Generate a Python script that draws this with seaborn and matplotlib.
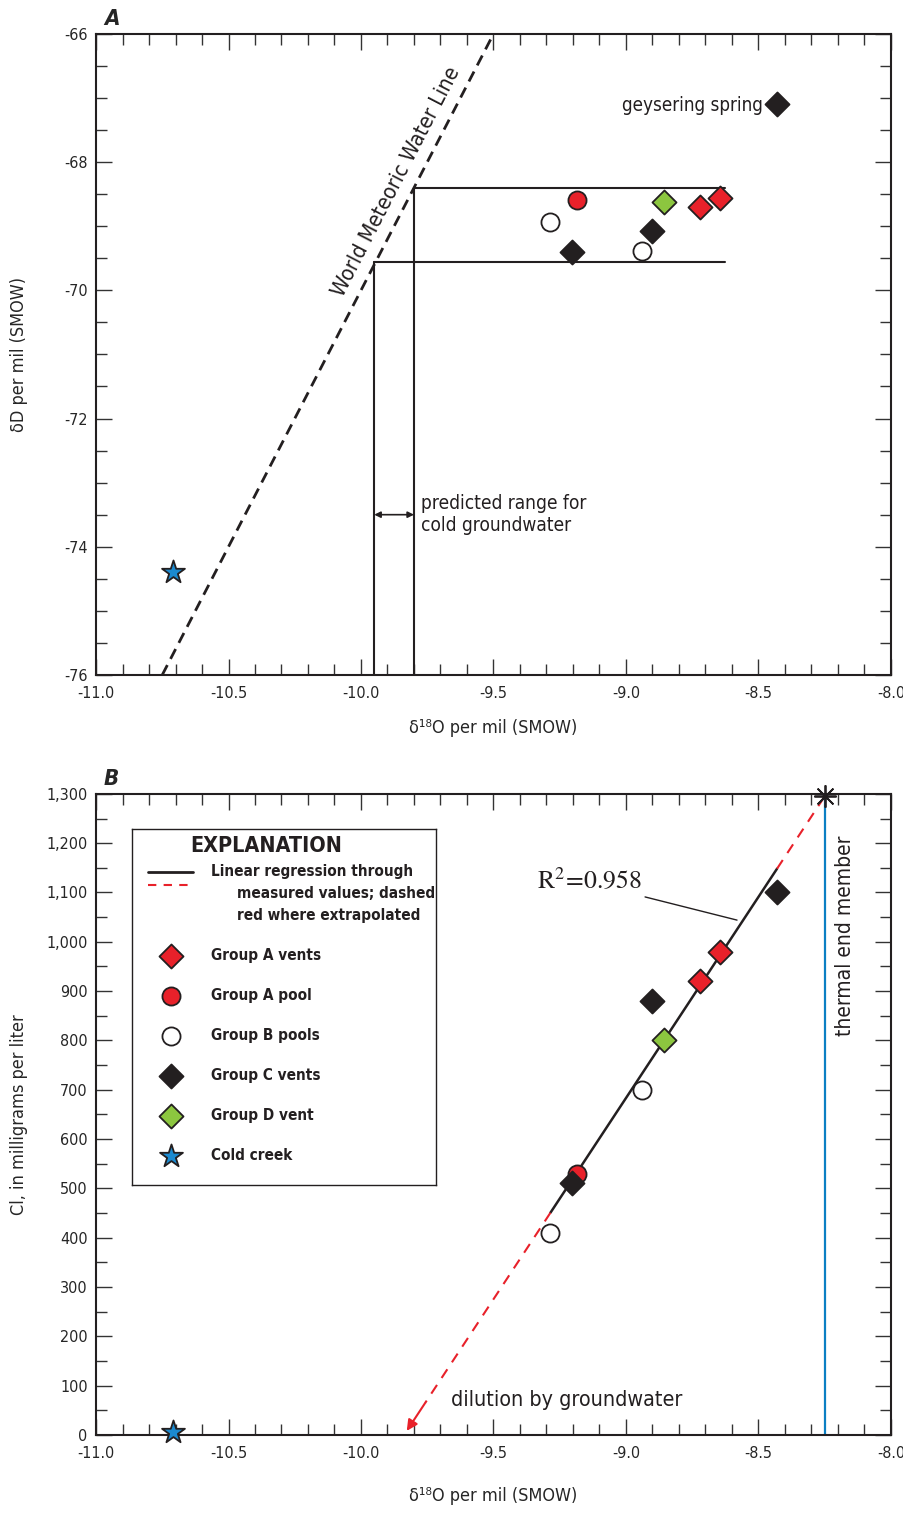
import numpy as np
import matplotlib
matplotlib.use('Agg')
import matplotlib.pyplot as plt
import seaborn as sns
from matplotlib.ticker import MultipleLocator, FuncFormatter

# ── Data ─────────────────────────────────────────────────────
groups  = ['Group A vents', 'Group A pool', 'Group B pools',
           'Group C vents', 'Group D vent', 'Cold creek']
g_color = ['#e8212a', '#e8212a', 'white', '#231f20', '#8cc63f', '#1b8ad0']
g_mark  = ['D', 'o', 'o', 'D', 'D', '*']
g_size  = [150, 170, 170, 150, 150, 300]

sample_group = ['Group A vents', 'Group A vents', 'Group A pool',
                'Group B pools', 'Group B pools', 'Group C vents',
                'Group C vents', 'Group C vents', 'Group D vent', 'Cold creek']
d18o = [-8.72, -8.645, -9.185, -9.285, -8.94, -9.205, -8.90, -8.43, -8.855, -10.71]
dD   = [-68.70, -68.56, -68.59, -68.93, -69.39, -69.40, -69.07, -67.09, -68.62, -74.39]
cl   = [920, 980, 530, 410, 700, 510, 880, 1100, 800, 5]

# world meteoric water line end points (A)
gmwl_x = [-10.75, -9.5]
gmwl_y = [-76, -66]
# predicted cold groundwater range (A)
gw_x   = [-9.95, -9.80]
gw_y   = [-69.56, -68.40]
box_right = -8.625
thermal_x = -8.25   # thermal end member (B)

red   = '#e8212a'
black = '#231f20'
blue  = '#0b7fc3'

sns.set_style('ticks')
plt.rcParams['font.family'] = ['DejaVu Sans']
plt.rcParams['font.stretch'] = 'condensed'
plt.rcParams['axes.unicode_minus'] = False
plt.rcParams['mathtext.fontset'] = 'stix'

fig = plt.figure(figsize=(9.04, 15.13), dpi=100)
axA = fig.add_axes([0.1062, 0.5539, 0.8794, 0.4237])
axB = fig.add_axes([0.1062, 0.0516, 0.8794, 0.4237])


def style_axis(ax):
    for s in ax.spines.values():
        s.set_linewidth(1.5)
        s.set_color(black)
    ax.xaxis.set_major_locator(MultipleLocator(0.5))
    ax.xaxis.set_minor_locator(MultipleLocator(0.1))
    ax.tick_params(which='both', direction='in', top=True, right=True,
                   width=1.0, color='#333333', labelsize=11.5)
    ax.tick_params(which='major', length=11.5)
    ax.tick_params(which='minor', length=8)
    ax.tick_params(axis='x', pad=8)
    ax.tick_params(axis='y', pad=6)
    ax.xaxis.set_major_formatter(FuncFormatter(lambda v, p: f'{v:.1f}'))
    ax.set_xlim(-11, -8)


def draw_points(ax, yvals):
    for g, c, m, s in zip(groups, g_color, g_mark, g_size):
        idx = [i for i, sg in enumerate(sample_group) if sg == g]
        sns.scatterplot(x=[d18o[i] for i in idx], y=[yvals[i] for i in idx],
                        marker=m, s=s, color=c, edgecolor=black,
                        linewidth=1.3, ax=ax, zorder=5, clip_on=False)


# ── Panel A ──────────────────────────────────────────────────
style_axis(axA)
axA.set_ylim(-76, -66)
axA.yaxis.set_major_locator(MultipleLocator(2))
axA.yaxis.set_minor_locator(MultipleLocator(0.5))
axA.yaxis.set_major_formatter(FuncFormatter(lambda v, p: f'{v:.0f}'))

axA.plot(gmwl_x, gmwl_y, color=black, lw=2, ls=(0, (4, 2.5)))
# rectangle of predicted range
axA.plot([gw_x[1], box_right], [gw_y[1], gw_y[1]], color=black, lw=1.5)
axA.plot([gw_x[0], box_right], [gw_y[0], gw_y[0]], color=black, lw=1.5)
axA.plot([gw_x[1], gw_x[1]], [-76, gw_y[1]], color=black, lw=1.5)
axA.plot([gw_x[0], gw_x[0]], [-76, gw_y[0]], color=black, lw=1.5)
axA.annotate('', xy=(gw_x[0], -73.5), xytext=(gw_x[1], -73.5),
             arrowprops=dict(arrowstyle='<|-|>', color=black, lw=1.2,
                             shrinkA=0, shrinkB=0, mutation_scale=9))
axA.text(-9.775, -73.5, 'predicted range for\ncold groundwater',
         fontsize=13.7, ha='left', va='center', color=black, linespacing=1.2)
draw_points(axA, dD)
axA.text(-8.485, -67.12, 'geysering spring', fontsize=13.5, ha='right',
         va='center', color=black)

# rotated label along the meteoric water line
p1 = axA.transData.transform((gmwl_x[0], gmwl_y[0]))
p2 = axA.transData.transform((gmwl_x[1], gmwl_y[1]))
ang = np.degrees(np.arctan2(p2[1] - p1[1], p2[0] - p1[0]))
axA.text(-9.865, -68.31, 'World Meteoric Water Line', rotation=ang,
         rotation_mode='anchor', ha='center', va='center', fontsize=15.5,
         color=black)

axA.set_xlabel('δ¹⁸O per mil (SMOW)', fontsize=13)
axA.set_ylabel('δD per mil (SMOW)', fontsize=13)
axA.xaxis.set_label_coords(0.5, -0.068)
axA.yaxis.set_label_coords(-0.085, 0.5)
axA.text(0.01, 1.008, 'A', transform=axA.transAxes, fontsize=16,
         fontweight='bold', fontstyle='italic', ha='left', va='bottom')

# ── Panel B ──────────────────────────────────────────────────
style_axis(axB)
axB.set_ylim(0, 1300)
axB.yaxis.set_major_locator(MultipleLocator(100))
axB.yaxis.set_minor_locator(MultipleLocator(50))
axB.yaxis.set_major_formatter(FuncFormatter(lambda v, p: f'{v:,.0f}'))

fit_x = [x for x, g in zip(d18o, sample_group) if g != 'Cold creek']
fit_y = [y for y, g in zip(cl, sample_group) if g != 'Cold creek']
sns.regplot(x=fit_x, y=fit_y, scatter=False, ci=None, truncate=True,
            color=black, line_kws={'lw': 1.8}, ax=axB)
slope, icpt = np.polyfit(fit_x, fit_y, 1)
x_zero = -icpt / slope
top_y = slope * thermal_x + icpt

xs_up = np.array([max(fit_x), thermal_x])
axB.plot(xs_up, slope * xs_up + icpt, color=red, lw=1.5, ls=(0, (5, 4)))
x_arrow = x_zero + 0.08
xs_dn = np.array([min(fit_x), x_arrow])
axB.plot(xs_dn, slope * xs_dn + icpt, color=red, lw=1.5, ls=(0, (5, 4)))
axB.annotate('', xy=(x_zero + 0.01, slope * (x_zero + 0.01) + icpt),
             xytext=(x_arrow, slope * x_arrow + icpt),
             arrowprops=dict(arrowstyle='-|>', color=red, lw=1.5,
                             shrinkA=0, shrinkB=0, mutation_scale=16))

axB.plot([thermal_x, thermal_x], [0, top_y], color=blue, lw=1.6)
axB.plot([thermal_x], [top_y], marker=(8, 2, 0), ms=16, mew=1.3,
         color=black, clip_on=False, zorder=6)

draw_points(axB, cl)

axB.text(-9.335, 1123, r'$\mathrm{R^{2}\!=\!0.958}$', fontsize=18.5,
         ha='left', va='center', color=black)
axB.plot([-8.928, -8.581], [1091, 1044], color=black, lw=1)
axB.text(-8.172, 1012, 'thermal end member', rotation=90, fontsize=15,
         ha='center', va='center', color=black)
axB.text(-9.66, 71, 'dilution by groundwater', fontsize=15.4, ha='left',
         va='center', color=black)

axB.set_xlabel('δ¹⁸O per mil (SMOW)', fontsize=13)
axB.set_ylabel('Cl, in milligrams per liter', fontsize=13)
axB.xaxis.set_label_coords(0.5, -0.082)
axB.yaxis.set_label_coords(-0.085, 0.5)
axB.text(0.01, 1.008, 'B', transform=axB.transAxes, fontsize=16,
         fontweight='bold', fontstyle='italic', ha='left', va='bottom')

# ── Explanation box ──────────────────────────────────────────
lax = fig.add_axes([0.146, 0.2168, 0.3363, 0.2353])
lax.set_xlim(0, 304)
lax.set_ylim(356, 0)
lax.set_xticks([])
lax.set_yticks([])
for s in lax.spines.values():
    s.set_linewidth(1.0)
    s.set_color(black)
lax.text(134, 17, 'EXPLANATION', fontsize=15.5, fontweight='bold',
         ha='center', va='center', color=black)
lax.plot([16, 61], [43, 43], color=black, lw=2)
lax.plot([16, 61], [56, 56], color=red, lw=1.5, ls=(0, (4, 3.5)))
leg_fs = 11
lax.text(79, 43, 'Linear regression through', fontsize=leg_fs,
         fontweight='bold', ha='left', va='center', color=black)
lax.text(105, 65, 'measured values; dashed', fontsize=leg_fs,
         fontweight='bold', ha='left', va='center', color=black)
lax.text(105, 87, 'red where extrapolated', fontsize=leg_fs,
         fontweight='bold', ha='left', va='center', color=black)
for i, (g, c, m, s) in enumerate(zip(groups, g_color, g_mark, g_size)):
    yy = 127 + 40 * i
    lax.scatter([39], [yy], marker=m, s=s, color=c, edgecolor=black,
                linewidth=1.3)
    lax.text(79, yy, g, fontsize=leg_fs, fontweight='bold', ha='left',
             va='center', color=black)

plt.savefig('out.png', dpi=100)
